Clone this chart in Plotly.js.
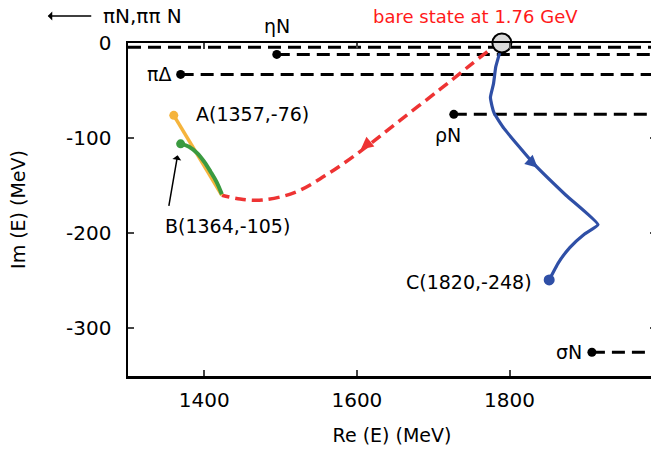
<!DOCTYPE html>
<html>
<head>
<meta charset="utf-8">
<script src="https://cdn.plot.ly/plotly-3.0.1.min.js"></script>
<style>
html,body{margin:0;padding:0;overflow:hidden;background:#fff;}
#chart{width:660px;height:449px;}
</style>
</head>
<body>
<div id="chart"></div>
<script>
// ---- data ----
const xRange = [1300, 1992];
const yRange = [-350, 0];

const redRe = [1771, 1749, 1710, 1657, 1611, 1565, 1519, 1476, 1447, 1423];
const redIm = [-9, -23, -48, -81, -110, -136, -157, -165, -164, -160];

const orangeRe = [1360, 1376, 1391, 1408, 1423];
const orangeIm = [-76, -97, -118, -139, -160];

const greenRe = [1369, 1380, 1391, 1400, 1408, 1416, 1423];
const greenIm = [-106, -109, -116, -125, -135, -146, -159];

const blueRe = [1788, 1782, 1779, 1775, 1777, 1780, 1793, 1832, 1874, 1916, 1898, 1879, 1864, 1852];
const blueIm = [-8, -25, -43, -57, -66, -74, -90, -127, -160, -191, -201, -215, -231, -249];

const bareRe = [1790];
const bareIm = [0];

const thresholdNames = ["ηN", "πΔ", "ρN", "σN"];
const thresholdRe = [1495, 1369, 1727, 1908];
const thresholdIm = [-12, -33, -75, -325];
const piNIm = -4.5;

const xTicks = [1400, 1600, 1800];
const yTicks = [0, -100, -200, -300];

// ---- traces ----
const traces = [];
const dash = '13px,7px';

// πN, ππN threshold line (from left edge)
traces.push({x: [xRange[0], xRange[1]], y: [piNIm, piNIm], mode: 'lines',
  line: {color: '#000', width: 3, dash: dash}, hoverinfo: 'skip'});

thresholdNames.forEach((n, i) => {
  traces.push({x: [thresholdRe[i], xRange[1]], y: [thresholdIm[i], thresholdIm[i]], mode: 'lines',
    line: {color: '#000', width: 3, dash: dash}, hoverinfo: 'skip'});
  traces.push({x: [thresholdRe[i]], y: [thresholdIm[i]], mode: 'markers',
    marker: {color: '#000', size: 9}, cliponaxis: false, hoverinfo: 'skip'});
});

traces.push({x: redRe, y: redIm, mode: 'lines',
  line: {color: '#ee3333', width: 3.5, dash: '11px,6px', shape: 'spline'}});
traces.push({x: orangeRe, y: orangeIm, mode: 'lines',
  line: {color: '#f5b43c', width: 3.5}});
traces.push({x: [orangeRe[0]], y: [orangeIm[0]], mode: 'markers',
  marker: {color: '#f5b43c', size: 9}});
traces.push({x: greenRe, y: greenIm, mode: 'lines',
  line: {color: '#3a9a40', width: 4, shape: 'spline'}});
traces.push({x: [greenRe[0]], y: [greenIm[0]], mode: 'markers',
  marker: {color: '#3a9a40', size: 9}});
traces.push({x: blueRe, y: blueIm, mode: 'lines',
  line: {color: '#2f4fa6', width: 3.2, shape: 'spline', smoothing: 0.4}});
traces.push({x: [blueRe[blueRe.length - 1]], y: [blueIm[blueIm.length - 1]], mode: 'markers',
  marker: {color: '#2f4fa6', size: 11}});
traces.push({x: bareRe, y: bareIm, mode: 'markers', cliponaxis: false,
  marker: {color: '#d9d9d9', size: 19, line: {color: '#000', width: 2}}});

// ---- annotations ----
const lblFont = {family: 'DejaVu Sans', size: 19, color: '#000'};
const ann = [
  {xref: 'paper', yref: 'paper', x: -0.051, y: 1.081, text: 'πN,ππ N', showarrow: false,
   xanchor: 'left', yanchor: 'middle', font: {family: 'DejaVu Sans', size: 20, color: '#000'}},
  {xref: 'paper', yref: 'paper', x: -0.152, y: 1.081, ax: 45, ay: 0, text: '', showarrow: true,
   arrowhead: 1, arrowsize: 1, arrowwidth: 1.5, arrowcolor: '#000', standoff: 0},
  {xref: 'x', yref: 'paper', x: 1755, y: 1.081, text: 'bare state at 1.76 GeV', showarrow: false,
   yanchor: 'middle', font: {family: 'DejaVu Sans', size: 18, color: '#ff1a1a'}},
  {xref: 'x', yref: 'paper', x: thresholdRe[0], y: 1.052, text: thresholdNames[0], showarrow: false,
   yanchor: 'middle', font: lblFont},
  {x: thresholdRe[1] - 10, y: thresholdIm[1], text: thresholdNames[1], showarrow: false, xanchor: 'right', font: lblFont},
  {x: thresholdRe[2] - 8, y: thresholdIm[2] - 22, text: thresholdNames[2], showarrow: false, font: lblFont},
  {x: thresholdRe[3] - 10, y: thresholdIm[3], text: thresholdNames[3], showarrow: false, xanchor: 'right', font: lblFont},
  {x: 1386, y: -75, text: 'A(1357,-76)', showarrow: false, xanchor: 'left', font: lblFont},
  {x: 1431, y: -192, text: 'B(1364,-105)', showarrow: false, font: lblFont},
  {x: 1832, y: -251, text: 'C(1820,-248)', showarrow: false, xanchor: 'right', font: lblFont},
  {x: 1365, y: -118, ax: -9, ay: 52, text: '', showarrow: true, arrowhead: 1, arrowsize: 1,
   arrowwidth: 1.5, arrowcolor: '#000', standoff: 0},
  {x: 1605, y: -112, ax: 11, ay: -9, text: '', showarrow: true, arrowhead: 2, arrowsize: 1,
   arrowwidth: 2.5, arrowcolor: '#ee3333', standoff: 0},
  {x: 1837, y: -131, ax: -10, ay: -9, text: '', showarrow: true, arrowhead: 2, arrowsize: 1,
   arrowwidth: 2.5, arrowcolor: '#2f4fa6', standoff: 0}
];

const tickFont = {family: 'DejaVu Sans', size: 20, color: '#000'};
const layout = {
  width: 660, height: 449,
  margin: {l: 128, r: 4, t: 43, b: 73},
  paper_bgcolor: '#fff', plot_bgcolor: '#fff',
  showlegend: false,
  xaxis: {range: xRange, tickvals: xTicks, ticktext: xTicks.map(String), ticks: 'inside', ticklen: 6, tickwidth: 2,
    showgrid: false, zeroline: false, showline: true, linewidth: 2.5, linecolor: '#000', mirror: 'ticks',
    tickfont: tickFont, ticklabelstandoff: 4,
    title: {text: 'Re (E) (MeV)', font: {family: 'DejaVu Sans', size: 19, color: '#000'}, standoff: 18}},
  yaxis: {range: yRange, tickvals: yTicks, ticktext: yTicks.map(String), ticks: 'inside', ticklen: 6, tickwidth: 2,
    showgrid: false, zeroline: false, showline: true, linewidth: 2.5, linecolor: '#000', mirror: 'ticks',
    tickfont: tickFont, ticklabelstandoff: 10,
    title: {text: 'Im (E) (MeV)', font: {family: 'DejaVu Sans', size: 19, color: '#000'}, standoff: 36}},
  annotations: ann
};

Plotly.newPlot('chart', traces, layout, {displayModeBar: false, staticPlot: true});
</script>
</body>
</html>
